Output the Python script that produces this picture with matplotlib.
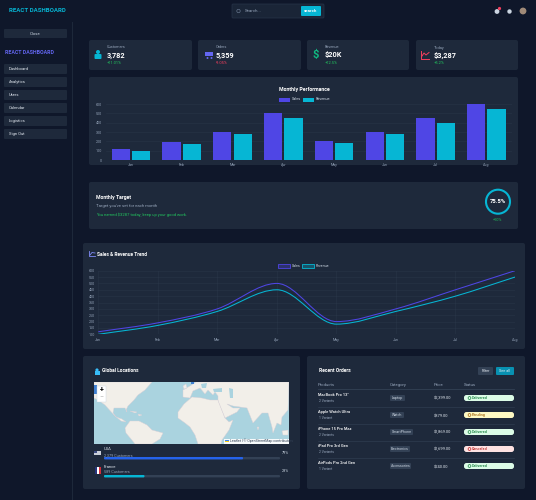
import matplotlib
matplotlib.use('Agg')
import matplotlib.pyplot as plt
from matplotlib.patches import FancyBboxPatch, Rectangle, Circle, Polygon, PathPatch
from matplotlib.path import Path

months = ['Jan', 'Feb', 'Mar', 'Apr', 'May', 'Jun', 'Jul', 'Aug']
sales = [120, 190, 300, 500, 200, 300, 450, 600]
revenue = [100, 170, 280, 450, 180, 280, 400, 550]

nav_items = ['Dashboard', 'Analytics', 'Users', 'Calendar', 'Logistics', 'Sign Out']

stat_labels = ['Customers', 'Orders', 'Revenue', 'Today']
stat_values = ['3,782', '5,359', '$20K', '$3,287']
stat_deltas = ['+11.01%', '-9.05%', '+12.5%', '+5.2%']

products = ['MacBook Pro 13"', 'Apple Watch Ultra', 'iPhone 15 Pro Max', 'iPad Pro 3rd Gen', 'AirPods Pro 2nd Gen']
variants = ['2 Variants', '1 Variant', '2 Variants', '2 Variants', '1 Variant']
categories = ['Laptop', 'Watch', 'SmartPhone', 'Electronics', 'Accessories']
prices = ['$2,399.00', '$879.00', '$1,869.00', '$1,699.00', '$240.00']
statuses = ['Delivered', 'Pending', 'Delivered', 'Canceled', 'Delivered']

countries = ['USA', 'France']
customers = ['2,379 Customers', '589 Customers']
shares = [79, 23]

# rough coastlines, in picture pixels
north_america = [(94, 382), (152, 382), (145, 390), (138, 395), (134, 400), (128, 406), (126, 410), (127, 412), (125, 408),
                 (114, 408), (113, 413), (116, 417), (122, 419), (126, 422), (121, 421), (114, 415), (105, 405), (98, 400), (94, 398)]
south_america = [(125, 428), (130, 421), (139, 421), (147, 425), (152, 430), (163, 433), (160, 439), (152, 444), (135, 444), (131, 439), (126, 433)]
africa = [(178, 412), (184, 404), (192, 397), (202, 398), (210, 400), (218, 400), (225, 418), (229, 422), (233, 420), (229, 430),
          (222, 440), (221, 444), (198, 444), (195, 435), (190, 427), (185, 423), (178, 418)]
eurasia = [(196, 382), (190, 386), (183, 390), (183, 397), (190, 398), (193, 391), (200, 388), (205, 394), (208, 390), (213, 395), (215, 392),
           (218, 396), (218, 400), (219, 403), (225, 418), (237, 412), (240, 408), (233, 408), (227, 404), (233, 406), (247, 408), (253, 423), (262, 413),
           (268, 413), (272, 427), (273, 433), (277, 423), (281, 425), (282, 417), (288, 410), (289, 382)]
inland_seas = [[(213, 389), (222, 388), (222, 392), (214, 392)], [(229, 388), (233, 389), (233, 398), (230, 398)],
               [(201, 384), (207, 383), (206, 388), (202, 388)]]
islands = [[(282, 431), (288, 430), (288, 435), (283, 435)], [(130, 411), (137, 412), (135, 413)], [(138, 414), (142, 415), (139, 416)],
           [(183, 386), (186, 384), (187, 388), (184, 389)], [(257, 427), (259, 427), (258, 430)]]

BG = '#0f172a'
CARD = '#1e293b'
LINE = '#334155'
VIOLET = '#4f46e5'
CYAN = '#06b6d4'
GREEN = '#22c55e'
MUTED = '#94a3b8'

plt.rcParams['font.family'] = ['Roboto', 'DejaVu Sans']

fig = plt.figure(figsize=(5.36, 5.0), dpi=100, facecolor=BG)
bg = fig.add_axes([0, 0, 1, 1])
bg.set_xlim(0, 536)
bg.set_ylim(500, 0)
bg.axis('off')


def box(x0, y0, x1, y1, color=CARD, r=2, ec='none', lw=0, z=1):
    bg.add_patch(FancyBboxPatch((x0 + r, y0 + r), x1 - x0 - 2 * r, y1 - y0 - 2 * r, boxstyle='round,pad=%s,rounding_size=%s' % (r, r),
                                fc=color, ec=ec, lw=lw, zorder=z))


def label(x, y, s, size=3.2, color='#e2e8f0', ha='left', weight='normal', z=5):
    bg.text(x, y, s, fontsize=size, color=color, ha=ha, va='center', fontweight=weight, zorder=z)


def axes_px(x0, y0, x1, y1):
    return fig.add_axes([x0 / 536, 1 - y1 / 500, (x1 - x0) / 536, (y1 - y0) / 500])


# header and sidebar
bg.plot([71.5, 71.5], [22, 500], color='#1e293b', lw=0.7)
label(9, 11, 'REACT DASHBOARD', 4.4, '#06b6d4', weight='bold')
box(232, 4, 324, 18, '#1a2537', 1, ec='#273449', lw=0.5)
label(245, 11.5, 'Search...', 3.2, MUTED)
bg.add_patch(Circle((238.5, 11), 1.7, fc='none', ec='#64748b', lw=0.5, zorder=5))
box(301, 6, 321, 16, CYAN, 1, z=3)
label(311, 11.5, 'search', 3.2, 'white', ha='center', weight='bold')
bg.add_patch(Circle((497, 11.5), 2.4, fc='#cbd5e1', zorder=5))
bg.add_patch(Circle((499.5, 8.5), 1.6, fc='#f43f5e', zorder=6))
bg.add_patch(Circle((509.5, 11.5), 2.2, fc='#cbd5e1', zorder=5))
bg.add_patch(Circle((523, 11), 3.4, fc='#a08a78', zorder=5))

box(4, 29, 67, 38, CARD, 1)
label(35.5, 33.7, 'Close', 3.1, '#cbd5e1', ha='center')
label(5, 53, 'REACT DASHBOARD', 3.8, '#6366f1', weight='bold')
for i, item in enumerate(nav_items):
    box(4, 64 + 13 * i, 67, 74 + 13 * i, CARD, 1)
    label(9, 69 + 13 * i, item, 3.0)

# stat cards
card_left = [89, 198, 307, 416]
card_right = [192, 301, 409, 518]
text_left = [107, 216, 325, 434]
delta_colors = [GREEN, '#f43f5e', GREEN, GREEN]
for i in range(4):
    box(card_left[i], 40, card_right[i], 70)
    label(text_left[i], 47.5, stat_labels[i], 2.8, MUTED)
    label(text_left[i], 55.3, stat_values[i], 5.2, 'white', weight='bold')
    label(text_left[i], 63.3, stat_deltas[i], 2.9, delta_colors[i])
bg.add_patch(Circle((98, 52), 2, fc=CYAN, zorder=5))
box(94.5, 54, 101.5, 59, CYAN, 1, z=5)
bg.add_patch(Rectangle((205, 51.5), 7.5, 4, fc='#6366f1', zorder=5))
bg.add_patch(Circle((207.5, 58), 1, fc='#6366f1', zorder=5))
bg.add_patch(Circle((211.5, 58), 1, fc='#6366f1', zorder=5))
label(316, 55.2, '$', 8, '#10b981', ha='center', weight='bold')
bg.plot([421, 421, 429], [51, 58.5, 58.5], color='#f43f5e', lw=0.7, zorder=5)
bg.plot([422, 424, 426, 429], [56, 53, 55, 52.5], color='#f43f5e', lw=0.7, zorder=5)

# monthly performance
box(89, 77, 518, 165)
label(304, 89, 'Monthly Performance', 3.8, 'white', ha='center', weight='bold')
bg.add_patch(Rectangle((279, 97.5), 11, 4, fc=VIOLET, zorder=5))
label(292, 99.5, 'Sales', 2.8, '#cbd5e1')
bg.add_patch(Rectangle((303, 97.5), 11, 4, fc=CYAN, zorder=5))
label(316, 99.5, 'Revenue', 2.8, '#cbd5e1')

ax = axes_px(105.6, 104, 511.7, 160)
ax.patch.set_alpha(0)
xs = list(range(len(months)))
ax.bar([x - 0.2 for x in xs], sales, width=0.36, color=VIOLET, zorder=3)
ax.bar([x + 0.2 for x in xs], revenue, width=0.36, color=CYAN, zorder=3)
ax.set_xlim(-0.5, 7.5)
ax.set_ylim(0, 600)
ax.set_yticks(range(0, 601, 100))
ax.set_xticks(xs, months)
ax.tick_params(length=0, labelsize=2.6, labelcolor=MUTED, pad=2.5)
ax.grid(axis='y', color=LINE, lw=0.4, alpha=0.45, zorder=0)
for s in ax.spines.values():
    s.set_visible(False)

# monthly target
box(89, 182, 518, 229)
label(96, 197, 'Monthly Target', 3.7, 'white', weight='bold')
label(96, 205.5, "Target you've set for each month", 3.1, MUTED)
label(96, 215, 'You earned $3287 today, keep up your good work.', 3.0, GREEN)
bg.add_patch(Circle((498, 201.7), 12, fc='none', ec=CYAN, lw=1.5, zorder=5))
label(498, 201.9, '75.5%', 4.2, 'white', ha='center', weight='bold')
label(498, 220, '+10%', 2.8, GREEN, ha='center')


# trend
def monotone_path(x, y):
    # same kind of curve as a monotone cubic line in the browser
    d = [(y[i + 1] - y[i]) / (x[i + 1] - x[i]) for i in range(len(x) - 1)]
    m = [d[0]] + [0 if d[i - 1] * d[i] <= 0 else (d[i - 1] + d[i]) / 2 for i in range(1, len(d))] + [d[-1]]
    verts = [(x[0], y[0])]
    codes = [Path.MOVETO]
    for i in range(len(d)):
        h = (x[i + 1] - x[i]) / 3
        verts += [(x[i] + h, y[i] + m[i] * h), (x[i + 1] - h, y[i + 1] - m[i + 1] * h), (x[i + 1], y[i + 1])]
        codes += [Path.CURVE4] * 3
    return Path(verts, codes)


box(83, 243, 525, 349)
bg.plot([89, 89, 95], [251, 256, 256], color='#818cf8', lw=0.6, zorder=5)
bg.plot([90, 92, 95], [255, 252.5, 253], color='#818cf8', lw=0.6, zorder=5)
label(97, 254, 'Sales & Revenue Trend', 3.5, 'white', weight='bold')
bg.add_patch(Rectangle((278, 264), 12, 4, fc='#4f46e54d', ec=VIOLET, lw=0.6, zorder=5))
label(292, 266, 'Sales', 2.6, '#cbd5e1')
bg.add_patch(Rectangle((302, 264), 12, 4, fc='#06b6d44d', ec=CYAN, lw=0.6, zorder=5))
label(316, 266, 'Revenue', 2.6, '#cbd5e1')

ax2 = axes_px(98.3, 270.7, 515, 334.3)
ax2.patch.set_alpha(0)
ax2.add_patch(PathPatch(monotone_path(xs, sales), fc='none', ec=VIOLET, lw=0.75, zorder=3))
ax2.add_patch(PathPatch(monotone_path(xs, revenue), fc='none', ec=CYAN, lw=0.75, zorder=4))
ax2.set_xlim(0, 7)
ax2.set_ylim(100, 600)
ax2.set_yticks(range(100, 601, 50))
ax2.set_xticks(xs, months)
ax2.tick_params(length=0, labelsize=2.6, labelcolor=MUTED, pad=2.5)
ax2.grid(color=LINE, lw=0.4, alpha=0.45)
for s in ax2.spines.values():
    s.set_visible(False)

# global locations
box(83, 356, 300, 489)
bg.add_patch(Rectangle((94.5, 371), 5, 3.5, fc='#38bdf8', zorder=5))
bg.add_patch(Circle((97, 370), 1.6, fc='#38bdf8', zorder=5))
label(102, 371, 'Global Locations', 3.5, 'white', weight='bold')

m = axes_px(94, 382, 289, 443.5)
m.set_xlim(94, 289)
m.set_ylim(443.5, 382)
m.set_facecolor('#aad3df')
m.axis('on')
m.set_xticks([])
m.set_yticks([])
for s in m.spines.values():
    s.set_visible(False)
for shape in [north_america, south_america, africa, eurasia] + islands:
    m.add_patch(Polygon(shape, fc='#f2efe9', ec='#d9cfd6', lw=0.3, zorder=2))
for shape in inland_seas:
    m.add_patch(Polygon(shape, fc='#aad3df', ec='none', zorder=3))
m.add_patch(Rectangle((94, 385), 2.5, 9, fc='#3f7fd0', zorder=4))
m.add_patch(Rectangle((191, 382), 2.5, 1.5, fc='#3f7fd0', zorder=4))
m.add_patch(Rectangle((97, 386), 9, 16, fc='white', ec='#cbd5e1', lw=0.3, zorder=5))
m.text(101.5, 389.5, '+', fontsize=5, color='black', ha='center', va='center', zorder=6, fontweight='bold')
m.text(101.5, 397.5, '\u2212', fontsize=5, color='#bbbbbb', ha='center', va='center', zorder=6)
m.add_patch(Rectangle((224, 438.5), 65, 5, fc='white', alpha=0.9, zorder=5))
m.add_patch(Rectangle((225, 439.8), 3.5, 1.2, fc='#3b82f6', zorder=6))
m.add_patch(Rectangle((225, 441), 3.5, 1.2, fc='#facc15', zorder=6))
m.text(229.5, 441, 'Leaflet | \u00a9 OpenStreetMap contributors', fontsize=2.6, color='#334155', va='center', zorder=6)

name_y = [449.3, 467]
sub_y = [454.7, 472.3]
bar_y = [458.2, 476.2]
bar_colors = ['#2563eb', CYAN]
for i in range(2):
    label(104, name_y[i], countries[i], 3.0, '#e2e8f0')
    label(104, sub_y[i], customers[i], 2.7, MUTED)
    box(104, bar_y[i] - 1.2, 280, bar_y[i] + 1.2, LINE, 1)
    box(104, bar_y[i] - 1.2, 104 + 176 * shares[i] / 100, bar_y[i] + 1.2, bar_colors[i], 1, z=2)
    label(289, bar_y[i] - 5, '%d%%' % shares[i], 2.8, '#cbd5e1', ha='right')
bg.add_patch(Rectangle((94, 450.5), 7, 4.5, fc='#c9ced8', zorder=5))
bg.add_patch(Rectangle((94, 450.5), 3, 2.2, fc='#3b4a80', zorder=6))
bg.add_patch(Rectangle((95, 467), 2, 7, fc='#26347a', zorder=5))
bg.add_patch(Rectangle((97, 467), 2, 7, fc='white', zorder=5))
bg.add_patch(Rectangle((99, 467), 2, 7, fc='#d22f3c', zorder=5))

# recent orders
box(307, 356, 525, 489)
label(319, 371, 'Recent Orders', 3.6, 'white', weight='bold')
box(478, 367, 493, 375, '#334155', 1, z=3)
label(485.5, 371.2, 'Filter', 2.8, '#e2e8f0', ha='center')
box(496, 367, 514, 375, '#0891b2', 1, z=3)
label(505, 371.2, 'See all', 2.8, '#e2e8f0', ha='center')
label(318, 384.7, 'Products', 3.1, MUTED)
label(390, 384.7, 'Category', 3.1, MUTED)
label(434, 384.7, 'Price', 3.1, MUTED)
label(464, 384.7, 'Status', 3.1, MUTED)
bg.plot([318, 514], [389.3, 389.3], color=LINE, lw=0.6, zorder=3)
status_fill = {'Delivered': '#dcfce7', 'Pending': '#fef9c3', 'Canceled': '#fee2e2'}
status_text = {'Delivered': '#15803d', 'Pending': '#a16207', 'Canceled': '#b91c1c'}
badge_right = [405, 404, 413, 410, 411]
for i in range(5):
    y = 398 + 17 * i
    label(318, y - 2.7, products[i], 2.9, 'white', weight='medium')
    label(319, y + 3, variants[i], 2.4, MUTED)
    box(390, y - 3, badge_right[i], y + 3, LINE, 1, z=3)
    label((390 + badge_right[i]) / 2, y + 0.2, categories[i], 2.6, '#cbd5e1', ha='center')
    label(434, y + 0.2, prices[i], 2.9, '#e2e8f0')
    box(464, y - 3, 514, y + 3, status_fill[statuses[i]], 2.5, z=3)
    bg.add_patch(Circle((469.5, y), 1.4, fc='none', ec=status_text[statuses[i]], lw=0.5, zorder=5))
    label(472, y + 0.2, statuses[i], 2.7, status_text[statuses[i]], weight='medium')
    if i < 4:
        bg.plot([318, 514], [y + 8.5, y + 8.5], color=LINE, lw=0.4, zorder=3)

fig.savefig('out.png', dpi=100, facecolor=BG)
